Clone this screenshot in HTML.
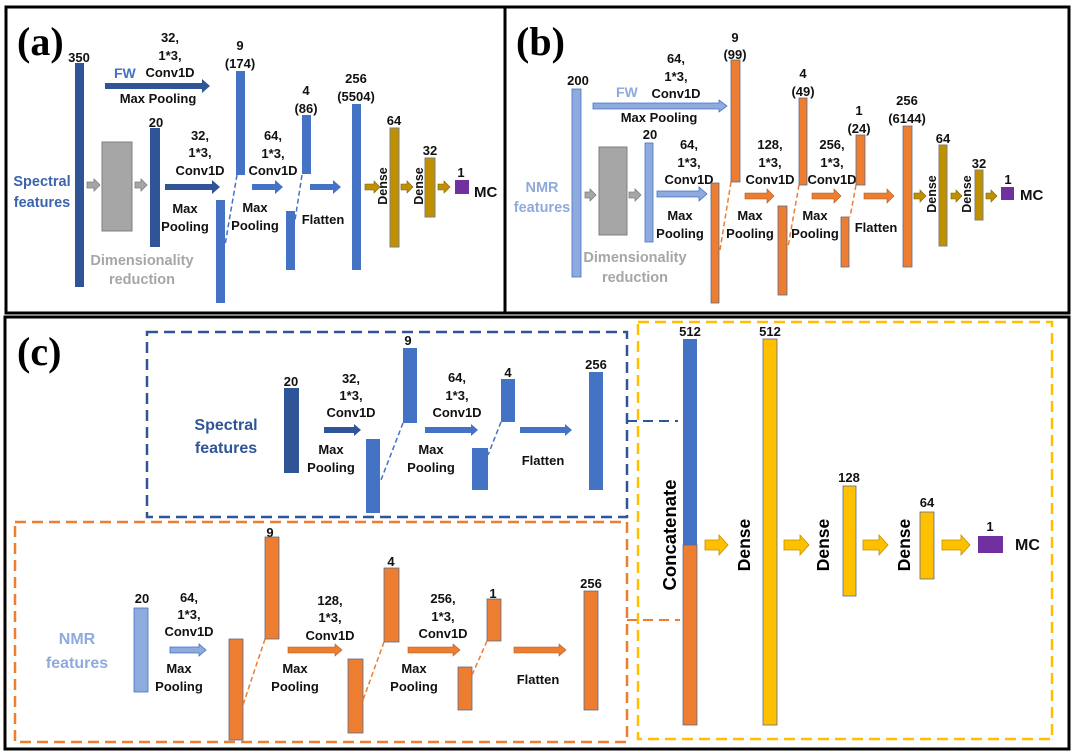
<!DOCTYPE html>
<html><head><meta charset="utf-8"><style>
html,body{margin:0;padding:0;background:#fff;}
svg{display:block;}
text{font-family:"Liberation Sans",sans-serif;font-weight:bold;}
.l{font-size:13px;fill:#111;text-anchor:middle;}
.m{font-size:13px;fill:#111;text-anchor:middle;}
.p{font-family:"Liberation Serif",serif;font-size:40px;fill:#000;}
</style></head><body>
<svg width="1074" height="753" viewBox="0 0 1074 753" xmlns="http://www.w3.org/2000/svg">
<rect width="1074" height="753" fill="#fff"/>
<!-- panel borders -->
<rect x="6" y="7" width="499" height="306" fill="none" stroke="#000" stroke-width="3"/>
<rect x="505" y="7" width="564" height="306" fill="none" stroke="#000" stroke-width="3"/>
<rect x="5" y="317" width="1064" height="432" fill="none" stroke="#000" stroke-width="3"/>

<!-- ===== (a) ===== -->
<text class="p" x="17" y="55">(a)</text>
<text class="l" x="79" y="62">350</text>
<rect x="75" y="63" width="9" height="224" fill="#2F5597"/>
<polygon points="105,83 202,83 202,79 210,86 202,93 202,89 105,89" fill="#2F5597"/>
<text x="114" y="78" style="font-size:14px;fill:#4472C4">FW</text>
<text class="l" x="170" y="42">32,</text>
<text class="l" x="170" y="60">1*3,</text>
<text class="l" x="170" y="77">Conv1D</text>
<text class="l" x="158" y="103">Max Pooling</text>
<text class="l" x="240" y="50">9</text>
<text class="l" x="240" y="68">(174)</text>
<rect x="236" y="71" width="9" height="104" fill="#4472C4"/>
<text x="42" y="186" style="font-size:14.5px;fill:#3B64AD;text-anchor:middle">Spectral</text>
<text x="42" y="207" style="font-size:14.5px;fill:#3B64AD;text-anchor:middle">features</text>
<polygon points="87,182 94,182 94,179 100,185 94,191 94,188 87,188" fill="#A6A6A6" stroke="#7f7f7f" stroke-width="0.8"/>
<rect x="102" y="142" width="30" height="89" fill="#A6A6A6" stroke="#7f7f7f"/>
<polygon points="135,182 141,182 141,179 147,185 141,191 141,188 135,188" fill="#A6A6A6" stroke="#7f7f7f" stroke-width="0.8"/>
<text class="l" x="156" y="127">20</text>
<rect x="150" y="128" width="10" height="119" fill="#2F5597"/>
<text x="142" y="265" style="font-size:14.5px;fill:#A6A6A6;text-anchor:middle">Dimensionality</text>
<text x="142" y="284" style="font-size:14.5px;fill:#A6A6A6;text-anchor:middle">reduction</text>
<text class="l" x="200" y="140">32,</text>
<text class="l" x="200" y="157">1*3,</text>
<text class="l" x="200" y="175">Conv1D</text>
<polygon points="165,184 212,184 212,180 220,187 212,194 212,190 165,190" fill="#2F5597"/>
<text class="l" x="185" y="213">Max</text>
<text class="l" x="185" y="231">Pooling</text>
<rect x="216" y="200" width="9" height="103" fill="#4472C4"/>
<line x1="237" y1="175" x2="225" y2="245" stroke="#4472C4" stroke-width="1.5" stroke-dasharray="5,3"/>
<text class="l" x="273" y="140">64,</text>
<text class="l" x="273" y="158">1*3,</text>
<text class="l" x="273" y="175">Conv1D</text>
<polygon points="252,184 275,184 275,180 283,187 275,194 275,190 252,190" fill="#4472C4"/>
<text class="l" x="255" y="212">Max</text>
<text class="l" x="255" y="230">Pooling</text>
<text class="l" x="306" y="95">4</text>
<text class="l" x="306" y="113">(86)</text>
<rect x="302" y="115" width="9" height="59" fill="#4472C4"/>
<rect x="286" y="211" width="9" height="59" fill="#4472C4"/>
<line x1="302" y1="175" x2="295" y2="220" stroke="#4472C4" stroke-width="1.5" stroke-dasharray="5,3"/>
<polygon points="310,184 333,184 333,180 341,187 333,194 333,190 310,190" fill="#4472C4"/>
<text class="l" x="323" y="224">Flatten</text>
<text class="l" x="356" y="83">256</text>
<text class="l" x="356" y="101">(5504)</text>
<rect x="352" y="104" width="9" height="166" fill="#4472C4"/>
<polygon points="365,184 374,184 374,181 380,187 374,193 374,190 365,190" fill="#BF9000" stroke="#7F6000" stroke-width="0.6"/>
<text transform="translate(387,186) rotate(-90)" style="font-size:12.5px;fill:#111;text-anchor:middle">Dense</text>
<text class="l" x="394" y="125">64</text>
<rect x="390" y="128" width="9" height="119" fill="#BF9000" stroke="#7f7f7f"/>
<polygon points="401,184 407,184 407,181 413,187 407,193 407,190 401,190" fill="#BF9000" stroke="#7F6000" stroke-width="0.6"/>
<text transform="translate(423,186) rotate(-90)" style="font-size:12.5px;fill:#111;text-anchor:middle">Dense</text>
<text class="l" x="430" y="155">32</text>
<rect x="425" y="158" width="10" height="59" fill="#BF9000" stroke="#7f7f7f"/>
<polygon points="438,184 444,184 444,181 450,187 444,193 444,190 438,190" fill="#BF9000" stroke="#7F6000" stroke-width="0.6"/>
<text class="l" x="461" y="177">1</text>
<rect x="455" y="180" width="14" height="14" fill="#7030A0"/>
<text x="474" y="197" style="font-size:15px;fill:#111">MC</text>

<!-- ===== (b) ===== -->
<text class="p" x="516" y="55">(b)</text>
<text class="l" x="578" y="85">200</text>
<rect x="572" y="89" width="9" height="188" fill="#8FAADC" stroke="#4472C4" stroke-width="0.8"/>
<polygon points="593,103 719,103 719,100 727,106 719,112 719,109 593,109" fill="#8FAADC" stroke="#4472C4" stroke-width="0.8"/>
<text x="616" y="97" style="font-size:14px;fill:#8FAADC">FW</text>
<text class="l" x="676" y="63">64,</text>
<text class="l" x="676" y="81">1*3,</text>
<text class="l" x="676" y="98">Conv1D</text>
<text class="l" x="659" y="122">Max Pooling</text>
<text class="l" x="735" y="42">9</text>
<text class="l" x="735" y="59">(99)</text>
<rect x="731" y="60" width="9" height="122" fill="#ED7D31" stroke="#5b6b8c" stroke-width="0.8"/>
<text x="542" y="192" style="font-size:14.5px;fill:#8FAADC;text-anchor:middle">NMR</text>
<text x="542" y="212" style="font-size:14.5px;fill:#8FAADC;text-anchor:middle">features</text>
<polygon points="585,192 590,192 590,189 596,195 590,201 590,198 585,198" fill="#A6A6A6" stroke="#7f7f7f" stroke-width="0.8"/>
<rect x="599" y="147" width="28" height="88" fill="#A6A6A6" stroke="#7f7f7f"/>
<polygon points="629,192 635,192 635,189 641,195 635,201 635,198 629,198" fill="#A6A6A6" stroke="#7f7f7f" stroke-width="0.8"/>
<text class="l" x="650" y="139">20</text>
<rect x="645" y="143" width="8" height="99" fill="#8FAADC" stroke="#4472C4" stroke-width="0.8"/>
<text x="635" y="262" style="font-size:14.5px;fill:#A6A6A6;text-anchor:middle">Dimensionality</text>
<text x="635" y="282" style="font-size:14.5px;fill:#A6A6A6;text-anchor:middle">reduction</text>
<text class="l" x="689" y="149">64,</text>
<text class="l" x="689" y="167">1*3,</text>
<text class="l" x="689" y="184">Conv1D</text>
<polygon points="657,191 699,191 699,187 707,194 699,201 699,197 657,197" fill="#8FAADC" stroke="#4472C4" stroke-width="0.8"/>
<text class="l" x="680" y="220">Max</text>
<text class="l" x="680" y="238">Pooling</text>
<rect x="711" y="183" width="8" height="120" fill="#ED7D31" stroke="#5b6b8c" stroke-width="0.8"/>
<line x1="731" y1="182" x2="720" y2="250" stroke="#ED7D31" stroke-width="1.5" stroke-dasharray="5,3"/>
<text class="l" x="770" y="149">128,</text>
<text class="l" x="770" y="167">1*3,</text>
<text class="l" x="770" y="184">Conv1D</text>
<polygon points="745,193 767,193 767,189 774,196 767,203 767,199 745,199" fill="#ED7D31" stroke="#AE5A21" stroke-width="0.6"/>
<text class="l" x="750" y="220">Max</text>
<text class="l" x="750" y="238">Pooling</text>
<text class="l" x="803" y="78">4</text>
<text class="l" x="803" y="96">(49)</text>
<rect x="799" y="98" width="8" height="87" fill="#ED7D31" stroke="#5b6b8c" stroke-width="0.8"/>
<rect x="778" y="206" width="9" height="89" fill="#ED7D31" stroke="#5b6b8c" stroke-width="0.8"/>
<line x1="799" y1="185" x2="788" y2="247" stroke="#ED7D31" stroke-width="1.5" stroke-dasharray="5,3"/>
<text class="l" x="832" y="149">256,</text>
<text class="l" x="832" y="167">1*3,</text>
<text class="l" x="832" y="184">Conv1D</text>
<polygon points="812,193 834,193 834,189 841,196 834,203 834,199 812,199" fill="#ED7D31" stroke="#AE5A21" stroke-width="0.6"/>
<text class="l" x="815" y="220">Max</text>
<text class="l" x="815" y="238">Pooling</text>
<text class="l" x="859" y="115">1</text>
<text class="l" x="859" y="133">(24)</text>
<rect x="856" y="135" width="9" height="50" fill="#ED7D31" stroke="#5b6b8c" stroke-width="0.8"/>
<rect x="841" y="217" width="8" height="50" fill="#ED7D31" stroke="#5b6b8c" stroke-width="0.8"/>
<line x1="856" y1="185" x2="850" y2="217" stroke="#ED7D31" stroke-width="1.5" stroke-dasharray="5,3"/>
<polygon points="864,193 887,193 887,189 894,196 887,203 887,199 864,199" fill="#ED7D31" stroke="#AE5A21" stroke-width="0.6"/>
<text class="l" x="876" y="232">Flatten</text>
<text class="l" x="907" y="105">256</text>
<text class="l" x="907" y="123">(6144)</text>
<rect x="903" y="126" width="9" height="141" fill="#ED7D31" stroke="#5b6b8c" stroke-width="0.8"/>
<polygon points="914,193 920,193 920,190 926,196 920,202 920,199 914,199" fill="#BF9000" stroke="#7F6000" stroke-width="0.6"/>
<text transform="translate(936,194) rotate(-90)" style="font-size:12.5px;fill:#111;text-anchor:middle">Dense</text>
<text class="l" x="943" y="143">64</text>
<rect x="939" y="145" width="8" height="101" fill="#BF9000" stroke="#7f7f7f"/>
<polygon points="951,193 956,193 956,190 962,196 956,202 956,199 951,199" fill="#BF9000" stroke="#7F6000" stroke-width="0.6"/>
<text transform="translate(971,194) rotate(-90)" style="font-size:12.5px;fill:#111;text-anchor:middle">Dense</text>
<text class="l" x="979" y="168">32</text>
<rect x="975" y="170" width="8" height="50" fill="#BF9000" stroke="#7f7f7f"/>
<polygon points="986,193 991,193 991,190 997,196 991,202 991,199 986,199" fill="#BF9000" stroke="#7F6000" stroke-width="0.6"/>
<text class="l" x="1008" y="184">1</text>
<rect x="1001" y="187" width="13" height="13" fill="#7030A0"/>
<text x="1020" y="200" style="font-size:15px;fill:#111">MC</text>

<!-- ===== (c) ===== -->
<text class="p" x="17" y="365">(c)</text>
<rect x="147" y="332" width="480" height="185" fill="none" stroke="#2F5597" stroke-width="2.5" stroke-dasharray="11,6"/>
<rect x="15" y="522" width="612" height="220" fill="none" stroke="#ED7D31" stroke-width="2.5" stroke-dasharray="11,6"/>
<rect x="638" y="322" width="414" height="417" fill="none" stroke="#FFC000" stroke-width="2.5" stroke-dasharray="11,6"/>
<line x1="627" y1="421" x2="678" y2="421" stroke="#2F5597" stroke-width="2" stroke-dasharray="10,6"/>
<line x1="627" y1="620" x2="680" y2="620" stroke="#ED7D31" stroke-width="2" stroke-dasharray="10,6"/>

<text x="226" y="430" style="font-size:16px;fill:#2F5597;text-anchor:middle">Spectral</text>
<text x="226" y="453" style="font-size:16px;fill:#2F5597;text-anchor:middle">features</text>
<text class="l" x="291" y="386">20</text>
<rect x="284" y="388" width="15" height="85" fill="#2F5597"/>
<text class="l" x="351" y="383">32,</text>
<text class="l" x="351" y="400">1*3,</text>
<text class="l" x="351" y="417">Conv1D</text>
<polygon points="324,427 354,427 354,424 361,430 354,436 354,433 324,433" fill="#2F5597"/>
<text class="l" x="331" y="454">Max</text>
<text class="l" x="331" y="472">Pooling</text>
<rect x="366" y="439" width="14" height="74" fill="#4472C4"/>
<text class="l" x="408" y="345">9</text>
<rect x="403" y="348" width="14" height="75" fill="#4472C4"/>
<line x1="403" y1="423" x2="381" y2="480" stroke="#4472C4" stroke-width="1.5" stroke-dasharray="5,3"/>
<text class="l" x="457" y="382">64,</text>
<text class="l" x="457" y="400">1*3,</text>
<text class="l" x="457" y="417">Conv1D</text>
<polygon points="425,427 471,427 471,424 478,430 471,436 471,433 425,433" fill="#4472C4"/>
<text class="l" x="431" y="454">Max</text>
<text class="l" x="431" y="472">Pooling</text>
<text class="l" x="508" y="377">4</text>
<rect x="501" y="379" width="14" height="43" fill="#4472C4"/>
<rect x="472" y="448" width="16" height="42" fill="#4472C4"/>
<line x1="501" y1="422" x2="488" y2="455" stroke="#4472C4" stroke-width="1.5" stroke-dasharray="5,3"/>
<polygon points="520,427 565,427 565,424 572,430 565,436 565,433 520,433" fill="#4472C4"/>
<text class="l" x="543" y="465">Flatten</text>
<text class="l" x="596" y="369">256</text>
<rect x="589" y="372" width="14" height="118" fill="#4472C4"/>

<text x="77" y="644" style="font-size:16px;fill:#8FAADC;text-anchor:middle">NMR</text>
<text x="77" y="668" style="font-size:16px;fill:#8FAADC;text-anchor:middle">features</text>
<text class="l" x="142" y="603">20</text>
<rect x="134" y="608" width="14" height="84" fill="#8FAADC" stroke="#4472C4" stroke-width="0.8"/>
<text class="l" x="189" y="602">64,</text>
<text class="l" x="189" y="619">1*3,</text>
<text class="l" x="189" y="636">Conv1D</text>
<polygon points="170,647 199,647 199,644 206,650 199,656 199,653 170,653" fill="#8FAADC" stroke="#4472C4" stroke-width="0.8"/>
<text class="l" x="179" y="673">Max</text>
<text class="l" x="179" y="691">Pooling</text>
<rect x="229" y="639" width="14" height="101" fill="#ED7D31" stroke="#5b6b8c" stroke-width="0.8"/>
<text class="l" x="270" y="537">9</text>
<rect x="265" y="537" width="14" height="102" fill="#ED7D31" stroke="#5b6b8c" stroke-width="0.8"/>
<line x1="265" y1="639" x2="243" y2="705" stroke="#ED7D31" stroke-width="1.5" stroke-dasharray="5,3"/>
<text class="l" x="330" y="605">128,</text>
<text class="l" x="330" y="622">1*3,</text>
<text class="l" x="330" y="640">Conv1D</text>
<polygon points="288,647 335,647 335,644 342,650 335,656 335,653 288,653" fill="#ED7D31" stroke="#AE5A21" stroke-width="0.6"/>
<text class="l" x="295" y="673">Max</text>
<text class="l" x="295" y="691">Pooling</text>
<rect x="348" y="659" width="15" height="74" fill="#ED7D31" stroke="#5b6b8c" stroke-width="0.8"/>
<text class="l" x="391" y="566">4</text>
<rect x="384" y="568" width="15" height="74" fill="#ED7D31" stroke="#5b6b8c" stroke-width="0.8"/>
<line x1="384" y1="642" x2="363" y2="700" stroke="#ED7D31" stroke-width="1.5" stroke-dasharray="5,3"/>
<text class="l" x="443" y="603">256,</text>
<text class="l" x="443" y="621">1*3,</text>
<text class="l" x="443" y="638">Conv1D</text>
<polygon points="408,647 453,647 453,644 460,650 453,656 453,653 408,653" fill="#ED7D31" stroke="#AE5A21" stroke-width="0.6"/>
<text class="l" x="414" y="673">Max</text>
<text class="l" x="414" y="691">Pooling</text>
<text class="l" x="493" y="598">1</text>
<rect x="487" y="599" width="14" height="42" fill="#ED7D31" stroke="#5b6b8c" stroke-width="0.8"/>
<rect x="458" y="667" width="14" height="43" fill="#ED7D31" stroke="#5b6b8c" stroke-width="0.8"/>
<line x1="487" y1="641" x2="472" y2="675" stroke="#ED7D31" stroke-width="1.5" stroke-dasharray="5,3"/>
<polygon points="514,647 559,647 559,644 566,650 559,656 559,653 514,653" fill="#ED7D31" stroke="#AE5A21" stroke-width="0.6"/>
<text class="l" x="538" y="684">Flatten</text>
<text class="l" x="591" y="588">256</text>
<rect x="584" y="591" width="14" height="119" fill="#ED7D31" stroke="#5b6b8c" stroke-width="0.8"/>

<!-- yellow part -->
<text class="l" x="690" y="336">512</text>
<rect x="683" y="339" width="14" height="206" fill="#4472C4"/>
<rect x="683" y="545" width="14" height="180" fill="#ED7D31" stroke="#5b6b8c" stroke-width="0.8"/>
<text transform="translate(676,535) rotate(-90)" style="font-size:18.5px;fill:#000;text-anchor:middle">Concatenate</text>
<polygon points="705,540 719,540 719,535 728,545 719,555 719,550 705,550" fill="#FFC000" stroke="#BF9000" stroke-width="0.8"/>
<text transform="translate(750,545) rotate(-90)" style="font-size:17.5px;fill:#000;text-anchor:middle">Dense</text>
<text class="l" x="770" y="336">512</text>
<rect x="763" y="339" width="14" height="386" fill="#FFC000" stroke="#5b6b8c" stroke-width="0.8"/>
<polygon points="784,540 800,540 800,535 809,545 800,555 800,550 784,550" fill="#FFC000" stroke="#BF9000" stroke-width="0.8"/>
<text transform="translate(829,545) rotate(-90)" style="font-size:17.5px;fill:#000;text-anchor:middle">Dense</text>
<text class="l" x="849" y="482">128</text>
<rect x="843" y="486" width="13" height="110" fill="#FFC000" stroke="#5b6b8c" stroke-width="0.8"/>
<polygon points="863,540 879,540 879,535 888,545 879,555 879,550 863,550" fill="#FFC000" stroke="#BF9000" stroke-width="0.8"/>
<text transform="translate(910,545) rotate(-90)" style="font-size:17.5px;fill:#000;text-anchor:middle">Dense</text>
<text class="l" x="927" y="507">64</text>
<rect x="920" y="512" width="14" height="67" fill="#FFC000" stroke="#5b6b8c" stroke-width="0.8"/>
<polygon points="942,540 961,540 961,535 970,545 961,555 961,550 942,550" fill="#FFC000" stroke="#BF9000" stroke-width="0.8"/>
<text class="l" x="990" y="531">1</text>
<rect x="978" y="536" width="25" height="17" fill="#7030A0"/>
<text x="1015" y="550" style="font-size:16px;fill:#111">MC</text>
</svg>
</body></html>
